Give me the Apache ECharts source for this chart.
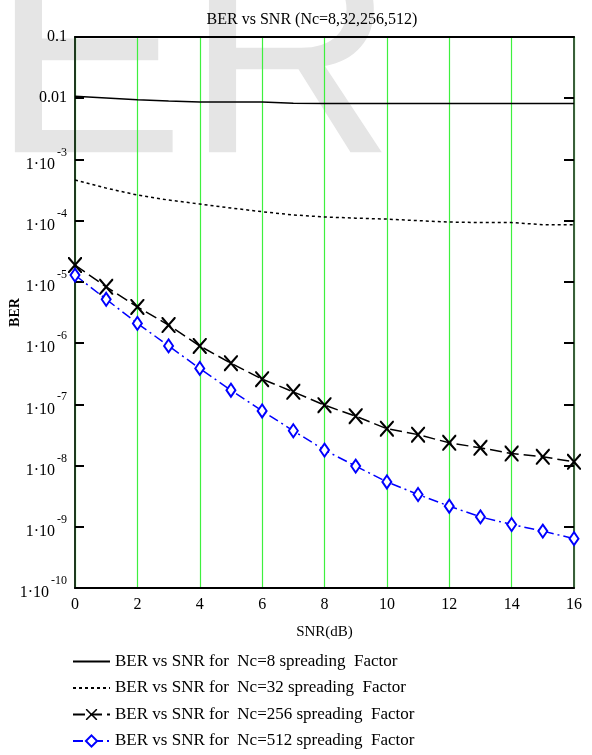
<!DOCTYPE html>
<html>
<head>
<meta charset="utf-8">
<script src="https://cdn.jsdelivr.net/npm/echarts@6/dist/echarts.min.js"></script>
<style>
html,body{margin:0;padding:0;background:#fff;}
#chart{width:592px;height:755px;}
</style>
</head>
<body>
<div id="chart"></div>
<script>
// ---- data ----
const snr = [0,1,2,3,4,5,6,7,8,9,10,11,12,13,14,15,16];
const berNc8   = [0.0108,0.0101,0.0094,0.0090,0.0087,0.0087,0.0087,0.0083,0.0082,0.0082,0.0082,0.0082,0.0082,0.0082,0.0082,0.0082,0.0082];
const berNc32  = [4.6e-4,3.4e-4,2.62e-4,2.17e-4,1.87e-4,1.61e-4,1.40e-4,1.24e-4,1.15e-4,1.10e-4,1.06e-4,1.00e-4,9.5e-5,9.3e-5,9.3e-5,8.6e-5,8.6e-5];
const berNc256 = [1.88e-5,8.3e-6,3.9e-6,1.97e-6,9.0e-7,4.7e-7,2.58e-7,1.6e-7,9.7e-8,6.4e-8,4.0e-8,3.2e-8,2.35e-8,1.95e-8,1.57e-8,1.39e-8,1.15e-8];
const berNc512 = [1.29e-5,5.2e-6,2.1e-6,9.0e-7,3.86e-7,1.7e-7,7.8e-8,3.7e-8,1.79e-8,9.8e-9,5.4e-9,3.37e-9,2.17e-9,1.45e-9,1.09e-9,8.5e-10,6.4e-10];
const seriesNames = [
  'BER vs SNR for  Nc=8 spreading  Factor',
  'BER vs SNR for  Nc=32 spreading  Factor',
  'BER vs SNR for  Nc=256 spreading  Factor',
  'BER vs SNR for  Nc=512 spreading  Factor'
];
const titleText = 'BER vs SNR (Nc=8,32,256,512)';
const xName = 'SNR(dB)';
const yName = 'BER';
const watermarkText = 'ER';

const pairs = (ys) => snr.map((x, i) => [x, ys[i]]);
const FONT = 'Liberation Serif';
const xSym = 'path://M0,0 L1,0 L5,4 L9,0 L10,0 L10,1 L6,5 L10,9 L10,10 L9,10 L5,6 L1,10 L0,10 L0,9 L4,5 L0,1 Z';

function yFmt(v) {
  const e = Math.round(Math.log10(v));
  if (e === -1) return '{n|0.1}';
  if (e === -2) return '{n|0.01}';
  return '{b|1·10}{s|-' + (-e) + '}';
}

const chart = echarts.init(document.getElementById('chart'));
chart.setOption({
  animation: false,
  backgroundColor: '#fff',
  graphic: [{
    type: 'text', z: -10, silent: true,
    x: -9, y: 72,
    style: { text: watermarkText, fontSize: 291, fontFamily: 'Liberation Sans', fill: '#e5e5e5', verticalAlign: 'middle' }
  }],
  title: {
    text: titleText, left: 307, top: 7, textAlign: 'center',
    textStyle: { fontFamily: FONT, fontSize: 16, fontWeight: 'normal', color: '#000' }
  },
  grid: { left: 75, right: 18, top: 37, bottom: 167, containLabel: false, outerBoundsMode: 'none' },
  xAxis: [{
    type: 'value', min: 0, max: 16, interval: 2,
    name: xName, nameLocation: 'middle', nameGap: 37, nameMoveOverlap: false,
    nameTextStyle: { fontFamily: FONT, fontSize: 15, color: '#000' },
    axisLine: { show: true, onZero: false, lineStyle: { color: '#000', width: 2 } },
    axisTick: { show: false },
    axisLabel: { margin: 9, fontFamily: FONT, fontSize: 16, color: '#000' },
    splitLine: { show: true, lineStyle: { color: '#3ef03e', width: 1.2 } }
  }, {
    type: 'value', min: 0, max: 16, interval: 2, position: 'top',
    axisLine: { show: true, onZero: false, lineStyle: { color: '#000', width: 2 } },
    axisTick: { show: false }, axisLabel: { show: false }, splitLine: { show: false }
  }],
  yAxis: [{
    type: 'log', logBase: 10, min: 1e-10, max: 0.1, splitNumber: 10,
    name: yName, nameLocation: 'middle', nameGap: 53, nameRotate: 90, nameMoveOverlap: false,
    nameTextStyle: { fontFamily: FONT, fontSize: 14, fontWeight: 'bold', color: '#000' },
    axisLine: { show: true, onZero: false, lineStyle: { color: '#1e3a1e', width: 2 } },
    axisTick: { show: true, inside: true, length: 9, lineStyle: { color: '#000', width: 2 } },
    axisLabel: {
      margin: 8, color: '#000', formatter: yFmt,
      rich: {
        n: { fontFamily: FONT, fontSize: 16, color: '#000' },
        b: { fontFamily: FONT, fontSize: 16, color: '#000', padding: [10, 0, 0, 0] },
        s: { fontFamily: FONT, fontSize: 12, color: '#000', verticalAlign: 'top', padding: [0, 0, 0, 2] }
      }
    },
    splitLine: { show: false }
  }, {
    type: 'log', logBase: 10, min: 1e-10, max: 0.1, splitNumber: 10, position: 'right',
    axisLine: { show: true, onZero: false, lineStyle: { color: '#3a5f3a', width: 2 } },
    axisTick: { show: true, inside: true, length: 10, lineStyle: { color: '#000', width: 2 } },
    axisLabel: { show: false }, splitLine: { show: false }
  }],
  legend: {
    orient: 'vertical', left: 72, top: 653, padding: 0, itemWidth: 37, itemHeight: 14, itemGap: 9.5,
    textStyle: { fontFamily: FONT, fontSize: 17, color: '#000' },
    data: [
      { name: seriesNames[0], itemStyle: { opacity: 0 } },
      { name: seriesNames[1], itemStyle: { opacity: 0 } },
      { name: seriesNames[2] },
      { name: seriesNames[3] }
    ]
  },
  series: [{
    name: seriesNames[0], type: 'line', data: pairs(berNc8), showSymbol: false, symbol: 'none',
    lineStyle: { color: '#000', width: 1.5, type: 'solid' }, itemStyle: { color: '#000' }
  }, {
    name: seriesNames[1], type: 'line', data: pairs(berNc32), showSymbol: false, symbol: 'none',
    lineStyle: { color: '#000', width: 1.5, type: [3, 3] }, itemStyle: { color: '#000' }
  }, {
    name: seriesNames[2], type: 'line', data: pairs(berNc256), symbol: xSym, symbolSize: [14, 16],
    lineStyle: { color: '#000', width: 1.5, type: [12, 5] }, itemStyle: { color: '#000' }
  }, {
    name: seriesNames[3], type: 'line', data: pairs(berNc512), symbol: 'emptyDiamond', symbolSize: [9, 13],
    lineStyle: { color: '#0000ff', width: 1.5, type: [10, 4, 2, 4] }, itemStyle: { color: '#0000ff', borderWidth: 1.3 }
  }]
});
</script>
</body>
</html>
